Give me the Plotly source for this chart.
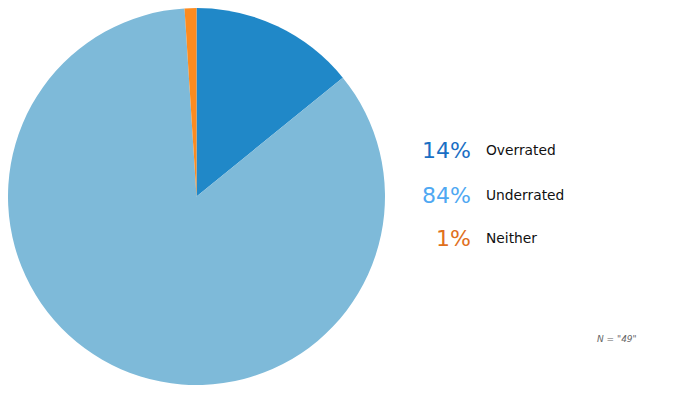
import plotly.graph_objects as go

labels = ["Overrated", "Underrated", "Neither"]
values = [14, 84, 1]
pct_text = ["14%", "84%", "1%"]
slice_colors = ["#2088c8", "#7ebad9", "#fd8b1f"]
text_colors = ["#1a6fc4", "#4ea8f2", "#e0701c"]
note = 'N = "49"'

W, H = 675, 406
OFF = 8  # page body margin

def px(x):
    return (x - OFF) / W

def py(y):
    return 1 - (y - OFF) / H

fig = go.Figure()
fig.add_trace(go.Pie(
    labels=labels, values=values, sort=False, direction="clockwise", rotation=0,
    marker=dict(colors=slice_colors, line=dict(color="white", width=0)),
    textinfo="none", hoverinfo="label+percent", showlegend=False,
    domain=dict(x=[px(8), px(385)], y=[py(385), 1]),
))

ys = [150, 195, 238]
for i in range(3):
    fig.add_annotation(x=px(473), y=py(ys[i]), xref="paper", yref="paper", text=pct_text[i],
                       xanchor="right", yanchor="middle", showarrow=False,
                       font=dict(family="DejaVu Sans", size=22, color=text_colors[i]))
    fig.add_annotation(x=px(484), y=py(ys[i]), xref="paper", yref="paper", text=labels[i],
                       xanchor="left", yanchor="middle", showarrow=False,
                       font=dict(family="DejaVu Sans", size=13.8, color="#111111"))

fig.add_annotation(x=px(617), y=py(339), xref="paper", yref="paper", text="<i>" + note + "</i>",
                   xanchor="center", yanchor="middle", showarrow=False,
                   font=dict(family="DejaVu Sans", size=9, color="#666666"))

fig.update_layout(width=W, height=H, margin=dict(l=0, r=0, t=0, b=0),
                  paper_bgcolor="white", plot_bgcolor="white")
fig.write_html("out.html")
